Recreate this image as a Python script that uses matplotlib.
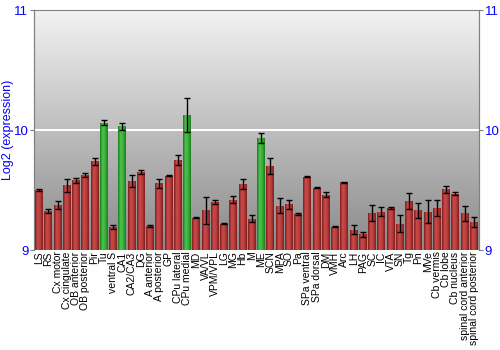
import numpy as np
import matplotlib

matplotlib.use("Agg")
import matplotlib.pyplot as plt
from matplotlib.colors import LinearSegmentedColormap

regions = [
    "LS", "RS", "Cx motor", "Cx cingulate", "OB anterior", "OB posterior", "Pir", "Tu",
    "ventral S", "CA1", "CA2/CA3", "DG", "A anterior", "A posterior", "GP", "CPu lateral",
    "CPu medial", "MD", "VA/VL", "VPM/VPL", "LG", "MG", "Hb", "M", "ME", "SCN", "MPA",
    "SO", "Pa", "SPa ventral", "SPa dorsal", "DM", "VMH", "Arc", "LH", "PAG", "SC", "IC",
    "VTA", "SN", "Tg", "Pn", "MVe", "Cb vermis", "Cb lobe", "Cb nucleus",
    "spinal cord anterior", "spinal cord posterior",
]
expression = [
    9.50, 9.325, 9.375, 9.54, 9.58, 9.625, 9.74, 10.06,
    9.19, 10.03, 9.575, 9.65, 9.20, 9.555, 9.62, 9.75,
    10.125, 9.27, 9.33, 9.40, 9.22, 9.42, 9.55, 9.26, 9.935, 9.70, 9.37,
    9.38, 9.30, 9.61, 9.52, 9.46, 9.195, 9.565, 9.17, 9.13, 9.31, 9.32,
    9.35, 9.22, 9.41, 9.33, 9.32, 9.35, 9.505, 9.47,
    9.305, 9.235,
]
errors = [
    0.005, 0.015, 0.03, 0.055, 0.02, 0.015, 0.03, 0.02,
    0.015, 0.03, 0.05, 0.015, 0.01, 0.04, 0.005, 0.04,
    0.14, 0.005, 0.11, 0.02, 0.005, 0.03, 0.04, 0.03, 0.04, 0.065, 0.06,
    0.035, 0.005, 0.005, 0.005, 0.02, 0.005, 0.005, 0.04, 0.02, 0.065, 0.04,
    0.01, 0.07, 0.065, 0.06, 0.095, 0.065, 0.03, 0.015,
    0.065, 0.04,
]
highlighted = ["Tu", "CA1", "CPu medial", "ME"]

fig = plt.figure(figsize=(5, 3.5), dpi=100)
ax = fig.add_axes([0.068, 0.2857, 0.89, 0.6857])

# grey background gradient
bg = LinearSegmentedColormap.from_list("bg", ["#8a8a8a", "#f2f2f2"])
ax.imshow(np.linspace(0, 1, 256).reshape(-1, 1), cmap=bg, aspect="auto",
          extent=[0, 1, 0, 1], transform=ax.transAxes, origin="lower", zorder=0)

x = np.arange(len(regions))
colors = ["#3cab3c" if r in highlighted else "#b23333" for r in regions]
bars = ax.bar(x, np.array(expression) - 9, bottom=9, width=0.86, color=colors,
              edgecolor="none", zorder=2)

red_cm = LinearSegmentedColormap.from_list("red", ["#7a1f1f", "#cc4a4a", "#bb3c3c", "#7a1f1f"])
green_cm = LinearSegmentedColormap.from_list("green", ["#1f7a1f", "#4cc44c", "#3aae3a", "#1f7a1f"])
shade = np.linspace(0, 1, 64).reshape(1, -1)
for bar, r in zip(bars, regions):
    x0, y0 = bar.get_x(), bar.get_y()
    im = ax.imshow(shade, cmap=green_cm if r in highlighted else red_cm, aspect="auto",
                   extent=[x0, x0 + bar.get_width(), y0, y0 + bar.get_height()], zorder=3)
    im.set_clip_path(bar)

ax.errorbar(x, expression, yerr=errors, fmt="none", ecolor="black", elinewidth=1,
            capsize=2.5, capthick=1, zorder=4)

ax.axhline(10, color="white", lw=1.5, zorder=1)

ax.set_xlim(-0.55, len(regions) - 0.45)
ax.set_ylim(9, 11)
ax.set_yticks([9, 10, 11])
ax.set_xticks(x)
ax.set_xticklabels(regions, rotation=90, fontsize=7.5, family="Liberation Sans",
                   color="black")
ax.tick_params(axis="x", length=0, pad=1)
ax.tick_params(axis="y", colors="#808080", labelcolor="blue", labelsize=9.5,
               length=3, pad=1)
for lbl in ax.get_yticklabels():
    lbl.set_family("Liberation Sans")
ax.set_ylabel("Log2 (expression)", color="blue", fontsize=9, family="Liberation Sans")
ax.yaxis.set_label_coords(-0.045, 0.5)

ax2 = ax.twinx()
ax2.set_ylim(9, 11)
ax2.set_yticks([9, 10, 11])
ax2.tick_params(axis="y", colors="#808080", labelcolor="blue", labelsize=9.5,
                length=3, pad=1)
for lbl in ax2.get_yticklabels():
    lbl.set_family("Liberation Sans")

for a in (ax, ax2):
    for side in ("top", "bottom"):
        a.spines[side].set_visible(False)
    a.spines["left"].set_color("#808080")
    a.spines["right"].set_color("#808080")
ax.spines["top"].set_visible(True)
ax.spines["top"].set_color("#808080")

fig.savefig("out.png", dpi=100)
